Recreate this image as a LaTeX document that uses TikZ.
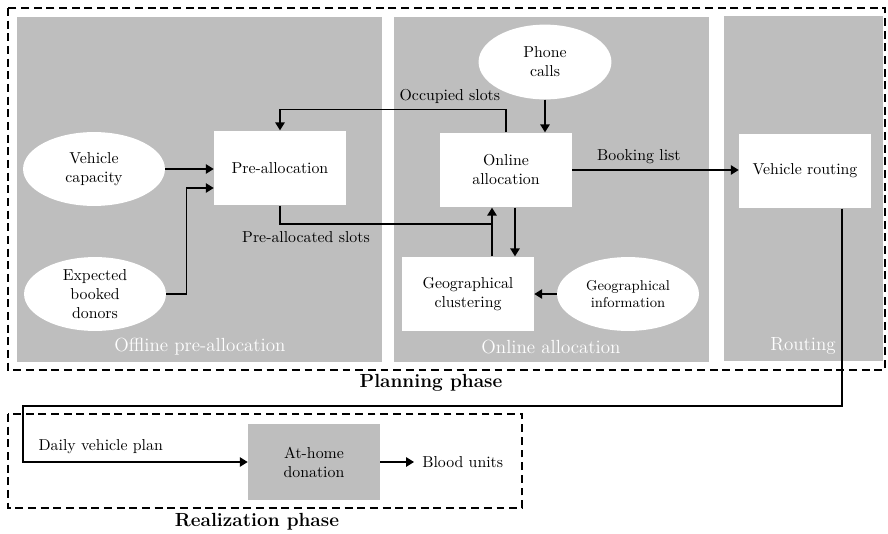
\documentclass[tikz,border=0pt]{standalone}
\usepackage{tikz}
\usetikzlibrary{arrows.meta,calc,shapes.geometric}
\definecolor{panelgray}{RGB}{190,190,190}
\tikzset{flow/.style={-{Triangle[length=5pt,width=6pt]},thick},
 phasebox/.style={thick,dash pattern=on 5pt off 3pt},
 block/.style={fill=white,minimum width=2.93cm,minimum height=1.66cm,align=center,inner sep=2pt},
 source/.style={ellipse,fill=white,minimum width=3.15cm,minimum height=1.64cm,align=center,inner sep=0pt},
 panellabel/.style={white,font=\large},
 phaselabel/.style={font=\large\bfseries}}

\begin{document}
\begin{tikzpicture}[x=0.0222cm,y=-0.0222cm]
\useasboundingbox (0,0) rectangle (888,533);
% stages of the planning phase
\fill[panelgray] (17,17) rectangle (382,362);
\fill[panelgray] (394,17) rectangle (709,362);
\fill[panelgray] (724,16) rectangle (883,361);
\node[panellabel] (offlbl) at (200,347) {Offline pre-allocation};
\node[panellabel] (onlbl) at (551,347) {Online allocation};
\node[panellabel] (routlbl) at (803,346) {Routing};
\draw[phasebox] (8,8) rectangle (885,370);
\draw[phasebox] (8,414) rectangle (522,508);
\node[phaselabel] (planlbl) at (431,383) {Planning phase};
\node[phaselabel] (reallbl) at (257,522) {Realization phase};

% nodes
\node[source] (vehcap) at (94,169) {Vehicle\\capacity};
\node[source] (donors) at (95,294) {Expected\\booked\\donors};
\node[block] (prealloc) at (280,168) {Pre-allocation};
\node[source,minimum width=2.95cm,minimum height=1.66cm] (phone) at (545,62) {Phone\\calls};
\node[block] (online) at (506,170) {Online\\allocation};
\node[block] (geoclust) at (468,294) {Geographical\\clustering};
\node[source,font=\small] (geoinfo) at (628,294) {Geographical\\information};
\node[block] (routing) at (805,171) {Vehicle routing};
\node[block,fill=panelgray,minimum height=1.69cm] (home) at (314,462) {At-home\\donation};
\node[anchor=west,inner sep=0pt] (blood) at (422,462) {Blood units};

\coordinate (join) at (492,224);
\coordinate (down) at (515,0);
\coordinate (exit) at (842,0);

% connectors
\draw[flow] (vehcap.east) -- (vehcap.east -| prealloc.west);
\draw[flow] (donors.east) -- ++(20,0) |- ($(prealloc.west)+(0,20)$);
\draw[flow] (online.north) -- ++(0,-23) node[above left] (occlbl) {Occupied slots} -| (prealloc.north);
\draw[thick] (prealloc.south) |- (join);
\node[below] (prelbl) at (306,226) {Pre-allocated slots};
\draw[flow] (geoclust.north -| join) -- (online.south -| join);
\draw[flow] (online.south -| down) -- (geoclust.north -| down);
\draw[flow] (phone.south) -- (phone.south |- online.north);
\draw[flow] (geoinfo.west) -- (geoclust.east);
\draw[flow] (online.east) -- node[above,pos=0.4] (booklbl) {Booking list} (online.east -| routing.west);
\draw[flow] (routing.south -| exit) |- (23,406) |- (home.west);
\node[anchor=south west] (planlbl2) at (33,459) {Daily vehicle plan};
\draw[flow] (home.east) -- ($(blood.west)+(-8,0)$);
\end{tikzpicture}
\end{document}
